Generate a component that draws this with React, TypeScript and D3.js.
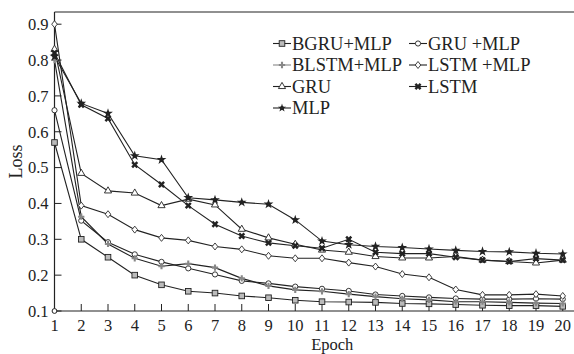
import React, { useEffect, useRef } from "react";
import * as d3 from "d3";

const epochs = d3.range(1, 21);
const yTicks = [0.1, 0.2, 0.3, 0.4, 0.5, 0.6, 0.7, 0.8, 0.9];

const bgruMlp = [0.57, 0.3, 0.25, 0.2, 0.173, 0.155, 0.15, 0.142, 0.137, 0.13, 0.126, 0.125, 0.124, 0.121, 0.12, 0.118, 0.116, 0.115, 0.115, 0.113];
const gruMlp = [0.66, 0.352, 0.292, 0.258, 0.237, 0.219, 0.202, 0.184, 0.177, 0.168, 0.162, 0.156, 0.146, 0.142, 0.138, 0.135, 0.133, 0.133, 0.134, 0.133];
const blstmMlp = [0.8, 0.363, 0.287, 0.247, 0.225, 0.232, 0.221, 0.191, 0.17, 0.159, 0.155, 0.147, 0.14, 0.134, 0.131, 0.126, 0.126, 0.124, 0.122, 0.121];
const lstmMlp = [0.9, 0.394, 0.37, 0.327, 0.304, 0.297, 0.28, 0.272, 0.254, 0.247, 0.247, 0.235, 0.224, 0.203, 0.194, 0.16, 0.145, 0.145, 0.147, 0.142];
const gru = [0.83, 0.484, 0.435, 0.429, 0.394, 0.412, 0.396, 0.328, 0.304, 0.286, 0.27, 0.264, 0.252, 0.248, 0.248, 0.252, 0.242, 0.238, 0.234, 0.242];
const lstm = [0.82, 0.675, 0.637, 0.508, 0.453, 0.394, 0.342, 0.309, 0.29, 0.282, 0.275, 0.3, 0.264, 0.26, 0.26, 0.25, 0.242, 0.238, 0.246, 0.242];
const mlp = [0.81, 0.679, 0.651, 0.533, 0.522, 0.416, 0.41, 0.403, 0.398, 0.354, 0.295, 0.285, 0.28, 0.277, 0.273, 0.269, 0.266, 0.265, 0.261, 0.259];

const seriesNames = ["BGRU+MLP", "GRU +MLP", "BLSTM+MLP", "LSTM +MLP", "GRU", "LSTM", "MLP"];
const seriesValues = [bgruMlp, gruMlp, blstmMlp, lstmMlp, gru, lstm, mlp];

const width = 574;
const height = 354;
const margin = { top: 12, right: 0, bottom: 43, left: 54.5 };
const font = "'Liberation Serif', 'Times New Roman', serif";

// forme du marqueur pour chaque série
function drawMarker(g, i, x, y, legend = false) {
  const ink = "#222";
  if (i === 0) {
    g.append("rect").attr("x", x - 2.8).attr("y", y - 2.8).attr("width", 5.6).attr("height", 5.6)
      .attr("fill", "#bbb").attr("stroke", ink).attr("stroke-width", 0.9);
  } else if (i === 1) {
    g.append("circle").attr("cx", x).attr("cy", y).attr("r", 2.6)
      .attr("fill", "#fff").attr("stroke", ink).attr("stroke-width", 0.9);
  } else if (i === 2) {
    g.append("path").attr("d", d3.symbol(d3.symbolCross, 22)()).attr("transform", `translate(${x},${y})`)
      .attr("fill", "#888");
  } else if (i === 3) {
    g.append("path").attr("d", d3.symbol(d3.symbolDiamond, 22)()).attr("transform", `translate(${x},${y}) scale(1.1,0.8)`)
      .attr("fill", "#fff").attr("stroke", ink).attr("stroke-width", 0.9);
  } else if (i === 4) {
    g.append("path").attr("d", d3.symbol(d3.symbolTriangle, 22)()).attr("transform", `translate(${x},${y})`)
      .attr("fill", "#fff").attr("stroke", ink).attr("stroke-width", 0.9);
  } else if (i === 5) {
    g.append("path").attr("d", d3.symbol(d3.symbolCross, 30)()).attr("transform", `translate(${x},${y}) rotate(45)`)
      .attr("fill", ink);
  } else {
    g.append("path").attr("d", d3.symbol(d3.symbolStar, legend ? 22 : 30)()).attr("transform", `translate(${x},${y})`)
      .attr("fill", ink);
    g.append("circle").attr("cx", x).attr("cy", y).attr("r", 2).attr("fill", ink);
  }
}

export default function App() {
  const ref = useRef(null);

  useEffect(() => {
    const svg = d3.select(ref.current);
    svg.selectAll("*").remove();

    const x = d3.scaleLinear().domain([1, 20]).range([margin.left, 562.75]);
    const y = d3.scaleLinear().domain([0.1, 0.9]).range([height - margin.bottom, 24.2]);
    const bottom = height - margin.bottom;
    const ink = "#222";

    // cadre
    svg.append("line").attr("x1", margin.left).attr("x2", width).attr("y1", margin.top).attr("y2", margin.top)
      .attr("stroke", ink).attr("stroke-width", 1.2);
    svg.append("line").attr("x1", margin.left).attr("x2", margin.left).attr("y1", margin.top).attr("y2", bottom)
      .attr("stroke", ink).attr("stroke-width", 1.2);
    svg.append("line").attr("x1", margin.left).attr("x2", width).attr("y1", bottom).attr("y2", bottom)
      .attr("stroke", ink).attr("stroke-width", 1.2);

    // graduations Y
    const yt = svg.append("g");
    yTicks.forEach(t => {
      yt.append("line").attr("x1", margin.left).attr("x2", margin.left + 7).attr("y1", y(t)).attr("y2", y(t))
        .attr("stroke", ink).attr("stroke-width", 1);
      yt.append("text").attr("x", margin.left - 6).attr("y", y(t)).attr("dy", "0.35em")
        .attr("text-anchor", "end").attr("font-family", font).attr("font-size", 16.5).attr("fill", ink)
        .text(d3.format(".1f")(t));
    });

    // graduations X
    const xt = svg.append("g");
    epochs.forEach(e => {
      if (e > 1) {
        xt.append("line").attr("x1", x(e)).attr("x2", x(e)).attr("y1", bottom).attr("y2", bottom - 7)
          .attr("stroke", ink).attr("stroke-width", 1);
      }
      xt.append("text").attr("x", x(e)).attr("y", bottom + 19.5).attr("text-anchor", "middle")
        .attr("font-family", font).attr("font-size", 16.5).attr("fill", ink).text(e);
    });

    // petit cercle à l'origine
    svg.append("circle").attr("cx", x(1)).attr("cy", y(0.1)).attr("r", 2.4)
      .attr("fill", "#fff").attr("stroke", ink).attr("stroke-width", 1);

    // titres des axes
    svg.append("text").attr("x", (margin.left + width) / 2 + 18).attr("y", 350).attr("text-anchor", "middle")
      .attr("font-family", font).attr("font-size", 16.5).attr("fill", ink).text("Epoch");
    svg.append("text").attr("transform", `translate(22,${(margin.top + bottom) / 2}) rotate(-90)`)
      .attr("text-anchor", "middle").attr("font-family", font).attr("font-size", 18).attr("fill", ink).text("Loss");

    const line = d3.line().x((d, i) => x(epochs[i])).y(d => y(d));

    const plot = svg.append("g");
    seriesValues.forEach((vals, si) => {
      plot.append("path").attr("d", line(vals)).attr("fill", "none")
        .attr("stroke", ink).attr("stroke-width", 1.1);
    });
    seriesValues.forEach((vals, si) => {
      const mg = plot.append("g");
      vals.forEach((v, i) => drawMarker(mg, si, x(epochs[i]), y(v)));
    });

    // légende
    const leg = svg.append("g");
    seriesNames.forEach((name, i) => {
      const col = i % 2;
      const row = Math.floor(i / 2);
      const lx = col === 0 ? 273 : 409;
      const ly = 43.5 + row * 21.5;
      leg.append("line").attr("x1", lx).attr("x2", lx + 18).attr("y1", ly).attr("y2", ly)
        .attr("stroke", i === 2 ? "#888" : ink).attr("stroke-width", 1.1);
      drawMarker(leg, i, lx + 9, ly, true);
      leg.append("text").attr("x", lx + 19).attr("y", ly).attr("dy", "0.35em")
        .attr("font-family", font).attr("font-size", 18.5).attr("fill", ink).text(name);
    });
  }, []);

  return (
    <svg ref={ref} width={width} height={height}
      style={{ position: "absolute", left: 0, top: 0, background: "#fff" }} />
  );
}
